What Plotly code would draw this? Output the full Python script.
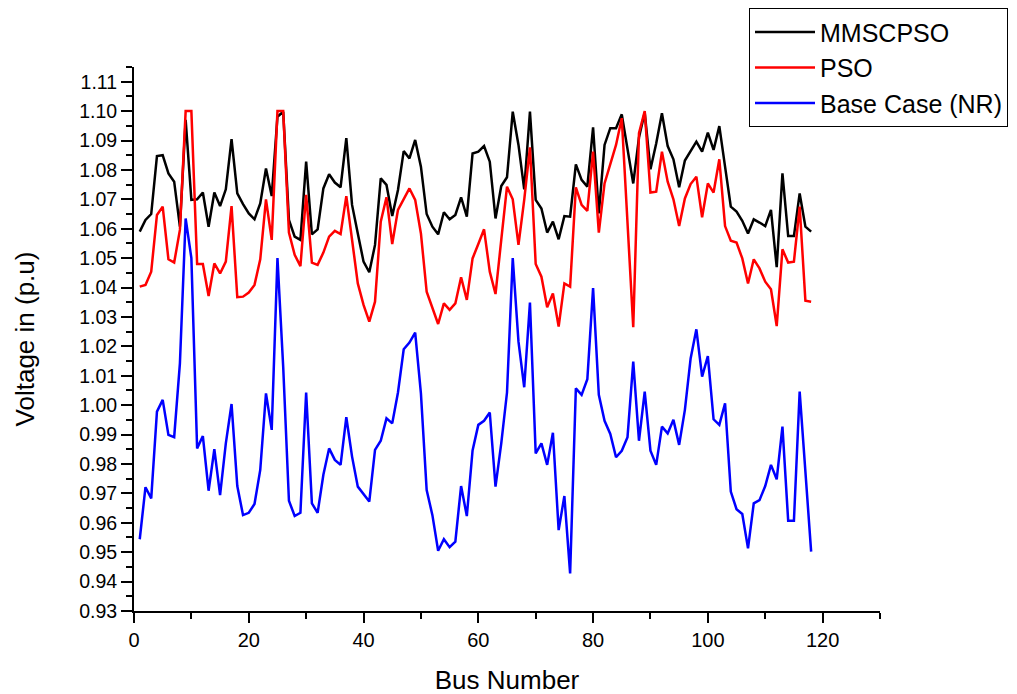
import plotly.graph_objects as go

bus = list(range(1, 119))

mmscpso = [1.0590, 1.0630, 1.0650, 1.0847, 1.0850, 1.0788, 1.0760, 1.0607, 1.0970, 1.0698,
           1.0700, 1.0723, 1.0607, 1.0723, 1.0677, 1.0734, 1.0905, 1.0720, 1.0684, 1.0652,
           1.0632, 1.0686, 1.0805, 1.0711, 1.0981, 1.0998, 1.0630, 1.0573, 1.0562, 1.0828,
           1.0581, 1.0598, 1.0737, 1.0785, 1.0757, 1.0741, 1.0908, 1.0681, 1.0584, 1.0488,
           1.0452, 1.0545, 1.0771, 1.0749, 1.0643, 1.0732, 1.0864, 1.0839, 1.0902, 1.0811,
           1.0650, 1.0607, 1.0581, 1.0656, 1.0632, 1.0647, 1.0707, 1.0641, 1.0856, 1.0862,
           1.0881, 1.0828, 1.0635, 1.0745, 1.0775, 1.0998, 1.0885, 1.0734, 1.0998, 1.0698,
           1.0669, 1.0587, 1.0624, 1.0564, 1.0643, 1.0641, 1.0819, 1.0766, 1.0743, 1.0945,
           1.0652, 1.0885, 1.0942, 1.0942, 1.0989, 1.0868, 1.0754, 1.0910, 1.0995, 1.0802,
           1.0890, 1.0993, 1.0881, 1.0836, 1.0741, 1.0832, 1.0862, 1.0896, 1.0862, 1.0927,
           1.0868, 1.0949, 1.0811, 1.0675, 1.0658, 1.0627, 1.0584, 1.0632, 1.0621, 1.0609,
           1.0664, 1.0469, 1.0788, 1.0575, 1.0575, 1.0720, 1.0607, 1.0590]

pso = [1.0403, 1.0409, 1.0454, 1.0647, 1.0675, 1.0496, 1.0485, 1.0596, 1.1000, 1.1000,
       1.0480, 1.0480, 1.0371, 1.0482, 1.0448, 1.0488, 1.0677, 1.0367, 1.0369, 1.0383,
       1.0409, 1.0496, 1.0700, 1.0562, 1.1000, 1.1000, 1.0587, 1.0511, 1.0473, 1.0715,
       1.0485, 1.0477, 1.0519, 1.0573, 1.0593, 1.0582, 1.0711, 1.0562, 1.0414, 1.0341,
       1.0284, 1.0352, 1.0624, 1.0707, 1.0548, 1.0664, 1.0703, 1.0737, 1.0698, 1.0584,
       1.0386, 1.0333, 1.0276, 1.0346, 1.0324, 1.0346, 1.0435, 1.0358, 1.0499, 1.0548,
       1.0598, 1.0454, 1.0378, 1.0562, 1.0743, 1.0700, 1.0545, 1.0698, 1.0877, 1.0480,
       1.0437, 1.0333, 1.0380, 1.0267, 1.0414, 1.0403, 1.0741, 1.0681, 1.0661, 1.0862,
       1.0587, 1.0754, 1.0817, 1.0885, 1.0976, 1.0620, 1.0265, 1.0925, 1.1000, 1.0723,
       1.0726, 1.0862, 1.0760, 1.0700, 1.0609, 1.0703, 1.0752, 1.0777, 1.0639, 1.0754,
       1.0723, 1.0836, 1.0609, 1.0559, 1.0553, 1.0499, 1.0414, 1.0496, 1.0465, 1.0420,
       1.0394, 1.0269, 1.0530, 1.0485, 1.0488, 1.0675, 1.0355, 1.0352]

base_nr = [0.9544, 0.9721, 0.9683, 0.9978, 1.0018, 0.9899, 0.9891, 1.0142, 1.0635, 1.0500,
           0.9853, 0.9895, 0.9709, 0.9850, 0.9694, 0.9870, 1.0004, 0.9725, 0.9626, 0.9634,
           0.9664, 0.9780, 1.0040, 0.9916, 1.0500, 1.0130, 0.9675, 0.9623, 0.9634, 1.0043,
           0.9666, 0.9634, 0.9763, 0.9853, 0.9814, 0.9797, 0.9959, 0.9825, 0.9723, 0.9698,
           0.9672, 0.9848, 0.9879, 0.9955, 0.9938, 1.0043, 1.0190, 1.0213, 1.0247, 1.0040,
           0.9711, 0.9626, 0.9505, 0.9544, 0.9517, 0.9536, 0.9725, 0.9623, 0.9846, 0.9933,
           0.9947, 0.9975, 0.9723, 0.9870, 1.0043, 1.0500, 1.0216, 1.0061, 1.0349, 0.9836,
           0.9870, 0.9797, 0.9906, 0.9575, 0.9691, 0.9428, 1.0057, 1.0035, 1.0088, 1.0398,
           1.0035, 0.9947, 0.9902, 0.9823, 0.9845, 0.9891, 1.0148, 0.9879, 1.0046, 0.9845,
           0.9797, 0.9927, 0.9904, 0.9950, 0.9865, 0.9984, 1.0159, 1.0258, 1.0097, 1.0167,
           0.9952, 0.9933, 1.0006, 0.9706, 0.9646, 0.9630, 0.9513, 0.9666, 0.9677, 0.9725,
           0.9797, 0.9748, 0.9927, 0.9607, 0.9607, 1.0046, 0.9780, 0.9502]

series = [("MMSCPSO", mmscpso, "#000000"),
          ("PSO", pso, "#ff0000"),
          ("Base Case (NR)", base_nr, "#0000ff")]

fig = go.Figure()
for name, vals, col in series:
    fig.add_trace(go.Scatter(x=bus, y=vals, mode="lines", name=name,
                             line=dict(color=col, width=2.5)))

font_family = "Liberation Sans, Arial, sans-serif"

fig.update_layout(
    width=1017, height=694,
    margin=dict(l=126, r=145, t=59, b=91, autoexpand=False),
    paper_bgcolor="white", plot_bgcolor="white",
    font=dict(family=font_family, color="black"),
    showlegend=True,
    legend=dict(x=0.8244, y=1.108, xanchor="left", yanchor="top",
                bordercolor="black", borderwidth=1, bgcolor="white",
                font=dict(size=25, family=font_family), tracegroupgap=0,
                itemwidth=60),
)

fig.update_xaxes(
    range=[0, 130], tick0=0, dtick=20, showgrid=False, zeroline=False,
    showline=True, linecolor="black", linewidth=2,
    ticks="outside", ticklen=10, tickwidth=2, tickcolor="black",
    minor=dict(dtick=10, ticks="outside", ticklen=6, tickwidth=2, tickcolor="black"),
    tickfont=dict(size=20),
    title=dict(text="Bus Number", font=dict(size=26), standoff=21),
)

fig.update_yaxes(
    range=[0.93, 1.115], tick0=0.93, dtick=0.01, tickformat=".2f",
    showgrid=False, zeroline=False,
    showline=True, linecolor="black", linewidth=2,
    ticks="outside", ticklen=11, tickwidth=2, tickcolor="black",
    minor=dict(dtick=0.005, ticks="outside", ticklen=6, tickwidth=2, tickcolor="black"),
    tickfont=dict(size=19.5),
    title=dict(text="Voltage in (p.u)", font=dict(size=26), standoff=37),
)

fig.write_html("out.html")
